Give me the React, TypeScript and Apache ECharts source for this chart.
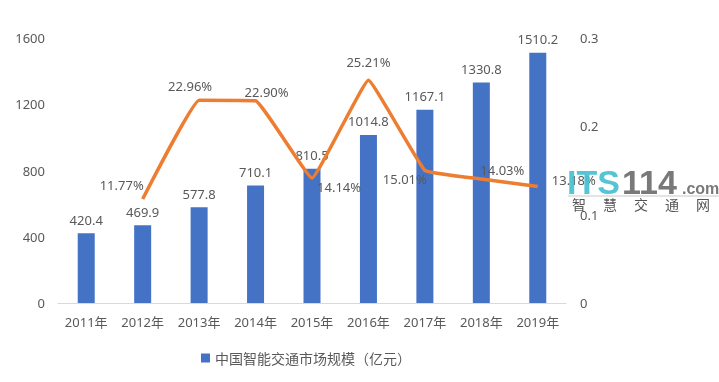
import React, { useEffect, useRef } from "react";
import * as echarts from "echarts";

const categories = ["2011年", "2012年", "2013年", "2014年", "2015年", "2016年", "2017年", "2018年", "2019年"];
const marketSize = [420.4, 469.9, 577.8, 710.1, 810.5, 1014.8, 1167.1, 1330.8, 1510.2];
const growthRate = [null, 0.1177, 0.2296, 0.229, 0.1414, 0.2521, 0.1501, 0.1403, 0.1318];
const growthLabels = ["", "11.77%", "22.96%", "22.90%", "14.14%", "25.21%", "15.01%", "14.03%", "13.18%"];
const labelPlacement: any[] = [
  null,
  { position: "top", offset: [-21, -2] },
  { position: "top", offset: [-9, -3] },
  { position: "top", offset: [11, 3] },
  { position: "right", offset: [0, 9] },
  { position: "top", offset: [0, -7] },
  { position: "left", offset: [7, 9] },
  { position: "top", offset: [21, 2] },
  { position: "right", offset: [9, -7] },
];
const watermarkChars = ["智", "慧", "交", "通", "网"];

const FONT = "'Noto Sans', 'Noto Sans CJK SC', sans-serif";
const TXT = "#595959";

export default function App() {
  const ref = useRef<HTMLDivElement>(null);
  useEffect(() => {
    document.body.style.margin = "0";
    document.body.style.overflow = "hidden";
    const chart = echarts.init(ref.current!, null, { renderer: "svg" });
    const lineData = growthRate.map((v, i) =>
      v == null
        ? null
        : {
            value: v,
            label: {
              show: true,
              formatter: growthLabels[i],
              ...labelPlacement[i],
            },
          }
    );
    const wm = (text: string, x: number, y: number, size: number, fill: string) => ({
      type: "text",
      x,
      y,
      z: 100,
      style: {
        text,
        fontSize: size,
        fontWeight: "bold",
        fontFamily: "'Liberation Sans', Arial, sans-serif",
        fill,
        opacity: 0.92,
      },
    });
    chart.setOption({
      animation: false,
      textStyle: { fontFamily: FONT, color: TXT },
      grid: { left: 58, right: 153, top: 38, bottom: 79 },
      legend: {
        data: ["中国智能交通市场规模（亿元）"],
        left: 196,
        top: 346,
        icon: "rect",
        itemWidth: 9,
        itemHeight: 9,
        itemGap: 4,
        textStyle: { fontSize: 14, color: TXT, fontFamily: FONT },
      },
      xAxis: {
        type: "category",
        data: categories,
        axisLine: { lineStyle: { color: "#d9d9d9" } },
        axisTick: { show: false },
        axisLabel: { color: TXT, fontSize: 13, margin: 12, fontFamily: FONT },
      },
      yAxis: [
        {
          type: "value",
          min: 0,
          max: 1600,
          interval: 400,
          splitLine: { show: false },
          axisLine: { show: false },
          axisTick: { show: false },
          axisLabel: { color: TXT, fontSize: 13, margin: 13, fontFamily: FONT, formatter: (v: number) => String(v) },
        },
        {
          type: "value",
          min: 0,
          max: 0.3,
          interval: 0.1,
          splitLine: { show: false },
          axisLine: { show: false },
          axisTick: { show: false },
          axisLabel: {
            color: TXT,
            fontSize: 13,
            margin: 14,
            fontFamily: FONT,
            formatter: (v: number) => (v === 0 ? "0" : String(Math.round(v * 10) / 10)),
          },
        },
      ],
      series: [
        {
          name: "中国智能交通市场规模（亿元）",
          type: "bar",
          data: marketSize,
          barWidth: 17,
          itemStyle: { color: "#4472C4" },
          label: {
            show: true,
            position: "top",
            distance: 7,
            color: TXT,
            fontSize: 13,
            fontFamily: FONT,
            formatter: (p: any) => p.value.toFixed(1),
          },
        },
        {
          name: "增长率",
          type: "line",
          yAxisIndex: 1,
          data: lineData,
          symbol: "circle",
          symbolSize: 0.1,
          showSymbol: true,
          smooth: 0.08,
          lineStyle: { color: "#ED7D31", width: 3.5 },
          itemStyle: { color: "#ED7D31" },
          label: { show: true, color: TXT, fontSize: 13, fontFamily: FONT },
          z: 3,
        },
      ],
      graphic: [
        {
          type: "line",
          shape: { x1: 568, y1: 196, x2: 719, y2: 196 },
          style: { stroke: "#c8c8c8", lineWidth: 1 },
          z: 100,
        },
        wm("ITS", 567, 165, 34, "#45c0d0"),
        wm("114", 622, 165, 34, "#6e6e6e"),
        wm(".com", 682, 180, 16, "#6e6e6e"),
        ...watermarkChars.map((c, i) => ({
          type: "text",
          x: 572 + i * 31,
          y: 197,
          style: { text: c, fontSize: 14, fontFamily: "'Noto Sans CJK SC', serif", fill: "#555555" },
          z: 100,
        })),
      ],
    });
    return () => chart.dispose();
  }, []);
  return <div ref={ref} style={{ position: "fixed", left: 0, top: 0, width: 719, height: 382 }} />;
}
